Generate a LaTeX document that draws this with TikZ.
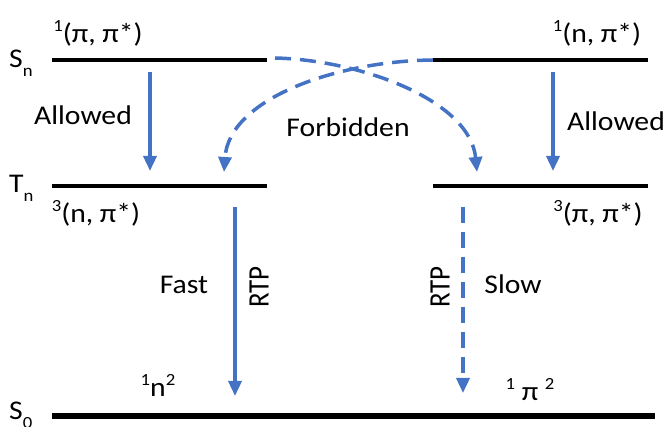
\documentclass[tikz,border=0pt]{standalone}
\usepackage{fontspec}
\setmainfont{Carlito}
\usepackage{graphicx}
\usetikzlibrary{arrows.meta}
\definecolor{tblue}{HTML}{4472C4}
\newcommand\wide[1]{\scalebox{1.1}[1]{#1}}
\newcommand\tall[1]{\scalebox{1}[1.1]{#1}}
\newcommand\up[1]{\raisebox{0.42em}{\fontsize{17}{17}\selectfont #1}}
\newcommand\dn[1]{\raisebox{-0.32em}{\fontsize{17}{17}\selectfont #1}}
\begin{document}
\begin{tikzpicture}[x=1pt,y=-1pt,
  level/.style={line width=4.5pt},
  tr/.style={draw=tblue,line width=3.5pt,-{Triangle[width=13pt,length=15pt,fill=tblue]}},
  dtr/.style={tr,dash pattern=on 16pt off 9pt},
  txt/.style={font=\fontsize{27}{31}\selectfont,inner sep=0pt,anchor=base},
]
\useasboundingbox (0,0) rectangle (670,427);

% levels
\coordinate (snLa) at (52,60);  \coordinate (snLb) at (267,60);
\coordinate (snRa) at (433,60); \coordinate (snRb) at (648,60);
\coordinate (tnLa) at (52,186); \coordinate (tnLb) at (267,186);
\coordinate (tnRa) at (433,186);\coordinate (tnRb) at (648,186);
\coordinate (s0a) at (52,416);  \coordinate (s0b) at (655,416);
\draw[level] (snLa) -- (snLb);
\draw[level] (snRa) -- (snRb);
\draw[level] (tnLa) -- (tnLb);
\draw[level] (tnRa) -- (tnRb);
\draw[level,line width=5.5pt] (s0a) -- (s0b);

% level names
\node[txt,anchor=base west] (snlab) at (9,68) {\wide{S\dn{n}}};
\node[txt,anchor=base west] (tnlab) at (9,193) {\wide{T\dn{n}}};
\node[txt,anchor=base west] (s0lab) at (9,420) {\wide{S\dn{0}}};

% state labels
\node[txt] (pp1) at (98,43) {\wide{\up{1}(π, π*)}};
\node[txt] (np1) at (597,43) {\wide{\up{1}(n, π*)}};
\node[txt] (np3) at (96,223) {\wide{\up{3}(n, π*)}};
\node[txt] (pp3) at (598,223) {\wide{\up{3}(π, π*)}};
\node[txt] (n2) at (158,397) {\wide{\up{1}n\up{2}}};
\node[txt] (pi2) at (530,401) {\wide{\up{1} π \up{2}}};

% transition labels
\node[txt] (all1) at (83,125) {\wide{Allowed}};
\node[txt] (all2) at (616,131) {\wide{Allowed}};
\node[txt] (forb) at (348,137) {\wide{Forbidden}};
\node[txt] (fast) at (184,294) {\wide{Fast}};
\node[txt] (slow) at (513,294) {\wide{Slow}};
\node[txt,anchor=center,rotate=90] (rtp1) at (259,287) {\tall{RTP}};
\node[txt,anchor=center,rotate=90] (rtp2) at (440,287) {\tall{RTP}};

% transitions
\coordinate (a1s) at (150,72);  \coordinate (a1e) at (150,171);
\coordinate (a2s) at (553,72);  \coordinate (a2e) at (553,171);
\coordinate (fs) at (235,207);  \coordinate (fe) at (235,396);
\coordinate (ss) at (463,207);  \coordinate (se) at (463,393);
\coordinate (cAs) at (275,58);  \coordinate (cAe) at (477,172);
\coordinate (cBs) at (433,60);  \coordinate (cBe) at (224,172);
\draw[tr] (a1s) -- (a1e);
\draw[tr] (a2s) -- (a2e);
\draw[tr] (fs) -- (fe);
\draw[dtr] (ss) -- (se);
\draw[dtr] (cAs) .. controls (360,60) and (470,100) .. (cAe);
\draw[dtr] (cBs) .. controls (338,61) and (229,98) .. (cBe);
\end{tikzpicture}
\end{document}
